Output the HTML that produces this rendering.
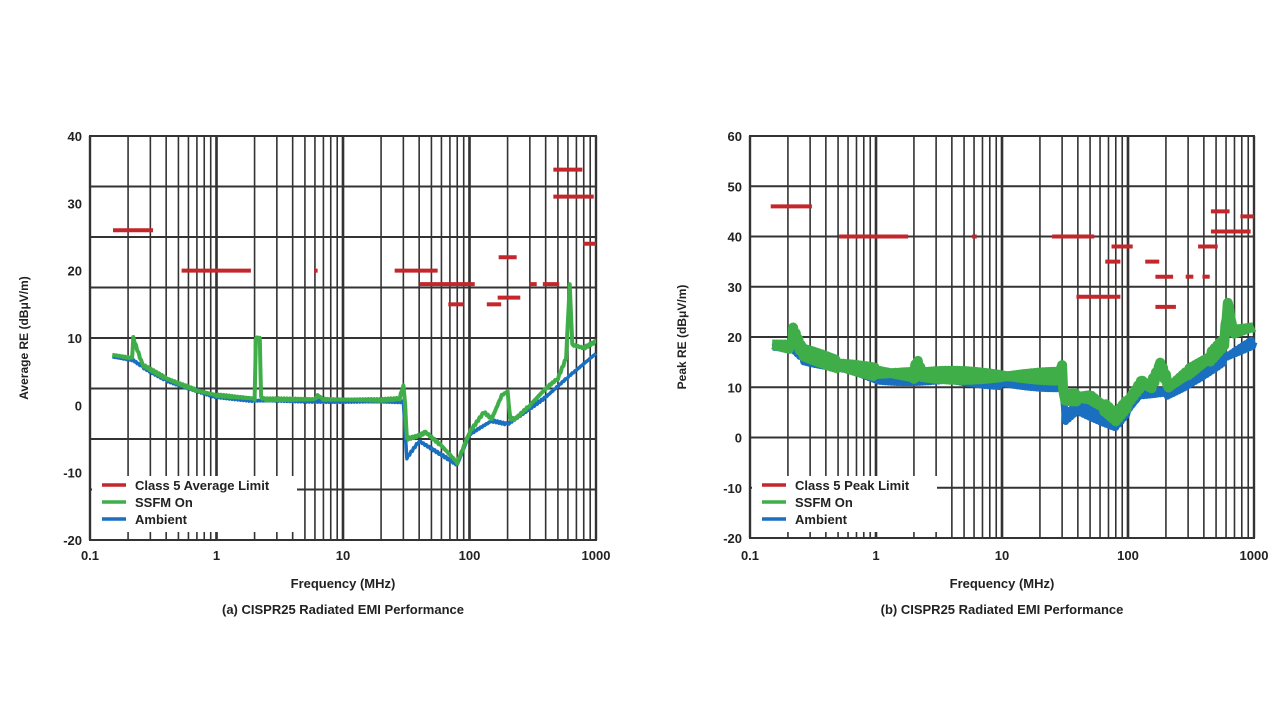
<!DOCTYPE html>
<html><head><meta charset="utf-8"><style>
html,body{margin:0;padding:0;background:#fff;}
svg text{font-family:"Liberation Sans",sans-serif;font-weight:bold;fill:#222;}
</style></head><body>
<svg id="s" width="1280" height="721" xmlns="http://www.w3.org/2000/svg"></svg>
<script>
const S=document.getElementById('s');let h='';
function chart(o){
 const X=f=>o.x0+Math.log10(f/0.1)*(o.x1-o.x0)/4;
 const Y=v=>o.y0+(o.vmax-v)*(o.y1-o.y0)/(o.vmax-o.vmin);
 for(let d=0;d<4;d++)for(let m=1;m<=10;m++){const f=0.1*Math.pow(10,d)*m;const x=X(f);
  const thick=(m==1||m==10);h+=`<line x1="${x}" y1="${o.y0}" x2="${x}" y2="${o.y1}" stroke="#333" stroke-width="${thick?2.4:1.6}"/>`;}
 for(let i=0;i<=8;i++){const y=o.y0+i*(o.y1-o.y0)/8;h+=`<line x1="${o.x0}" y1="${y}" x2="${o.x1}" y2="${y}" stroke="#333" stroke-width="1.9"/>`;}
 h+=`<rect x="${o.x0}" y="${o.y0}" width="${o.x1-o.x0}" height="${o.y1-o.y0}" fill="none" stroke="#333" stroke-width="2"/>`;
 function path(pts,jit,off){let d='';
  for(let i=0;i<pts.length-1;i++){const [f1,v1]=pts[i],[f2,v2]=pts[i+1];const n=Math.max(2,Math.round((Math.log10(f2)-Math.log10(f1))*90));
   for(let k=0;k<n;k++){const t=k/n;const f=Math.pow(10,Math.log10(f1)+t*(Math.log10(f2)-Math.log10(f1)));const v=v1+t*(v2-v1)+off+(jit?(Math.sin(i*7+k*3.1)*jit):0);
    d+=(d?'L':'M')+X(f).toFixed(1)+' '+Y(v).toFixed(1);}}
  const l=pts[pts.length-1];d+='L'+X(l[0]).toFixed(1)+' '+Y(l[1]+off).toFixed(1);return d;}
 h+=`<path d="${path(o.blue,o.jit,o.boff)}" fill="none" stroke="#1a6fc0" stroke-width="${o.sw}" stroke-linejoin="round"/>`;
 h+=`<path d="${path(o.green,o.jit,0)}" fill="none" stroke="#3fae49" stroke-width="${o.sw+o.gx}" stroke-linejoin="round"/>`;
 for(const [a,b,v] of o.lim)h+=`<line x1="${X(a)}" y1="${Y(v)}" x2="${X(b)}" y2="${Y(v)}" stroke="#c3262b" stroke-width="4"/>`;
 for(let v=o.vmin;v<=o.vmax;v+=10)h+=`<text x="${o.x0-8}" y="${Y(v)+5}" font-size="13" text-anchor="end">${v}</text>`;
 ['0.1','1','10','100','1000'].forEach((t,i)=>{h+=`<text x="${o.x0+i*(o.x1-o.x0)/4}" y="560" font-size="13" text-anchor="middle">${t}</text>`;});
 const cx=(o.x0+o.x1)/2;
 h+=`<text x="${cx}" y="588" font-size="13" text-anchor="middle">Frequency (MHz)</text>`;
 h+=`<text x="${cx}" y="614" font-size="13" text-anchor="middle">${o.cap}</text>`;
 h+=`<text transform="translate(${o.yt},${(o.y0+o.y1)/2}) rotate(-90)" font-size="12" text-anchor="middle">${o.ylab}</text>`;
 h+=`<rect x="${o.x0+2}" y="476" width="${o.lw}" height="56" fill="#fff"/>`;
 [['#c3262b',o.l1],['#3fae49','SSFM On'],['#1a6fc0','Ambient']].forEach((e,i)=>{const y=485+i*17;
  h+=`<line x1="${o.x0+12}" y1="${y}" x2="${o.x0+36}" y2="${y}" stroke="${e[0]}" stroke-width="3.5"/><text x="${o.x0+45}" y="${y+5}" font-size="13">${e[1]}</text>`;});
}
chart({x0:90,x1:596,y0:136,y1:540,vmin:-20,vmax:40,sw:3.5,gx:0.5,jit:0.15,boff:-0.3,yt:28,lw:205,
 ylab:'Average RE (dBμV/m)',cap:'(a) CISPR25 Radiated EMI Performance',l1:'Class 5 Average Limit',
 green:[[0.15,7.5],[0.215,7],[0.22,10],[0.26,6],[0.4,4],[0.7,2.2],[1,1.5],[2,1],[2.05,10],[2.2,10],[2.25,1.2],[2.4,0.9],[6,0.9],[6.3,1.5],[7,0.9],[20,0.8],[28,1],[30,3],[31,0],[32,-5],[40,-4.5],[45,-4],[60,-6],[80,-8.5],[100,-4],[130,-1],[150,-2],[180,1.5],[200,2],[210,-2],[230,-2],[300,0],[400,2.5],[500,4],[580,7],[620,18],[650,9],[800,8.5],[1000,9.5]],
 blue:[[0.15,7.5],[0.22,7],[0.26,6],[0.4,4],[1,1.5],[2,1],[30,0.8],[32,-7.5],[40,-5],[80,-8.5],[100,-4],[150,-2],[200,-2.5],[400,1.5],[600,4.5],[1000,8]],
 lim:[[0.152,0.315,26],[0.53,1.87,20],[5.9,6.3,20],[25.6,56,20],[40.4,110,18],[68,90,15],[170,236,22],[167,252,16],[137,178,15],[296,340,18],[380,512,18],[460,780,35],[460,960,31],[790,1000,24]]});
chart({x0:750,x1:1254,y0:136,y1:538,vmin:-20,vmax:60,sw:7,gx:3,jit:0.9,boff:-1.0,yt:686,lw:185,
 ylab:'Peak RE (dBμV/m)',cap:'(b) CISPR25 Radiated EMI Performance',l1:'Class 5 Peak Limit',
 green:[[0.15,18.5],[0.215,18],[0.22,21],[0.26,17],[0.5,14.5],[1,13],[2,12.5],[2.1,15],[2.3,12.5],[10,12.2],[28,12.2],[30,13.5],[31,8],[40,8],[50,8],[65,6],[80,4],[100,7],[130,11],[150,10],[180,14],[200,12],[210,10],[300,13],[450,16],[580,19],[620,27],[680,21],[1000,22]],
 blue:[[0.15,19],[0.22,19],[0.26,17],[1,13],[10,12],[30,11.5],[32,5],[40,7],[80,3.5],[100,6.5],[130,10],[200,10],[300,12],[600,17],[1000,20]],
 lim:[[0.146,0.31,46],[0.51,1.8,40],[5.8,6.3,40],[25,54,40],[39,87,28],[66,87,35],[74,109,38],[137,177,35],[165,228,32],[287,330,32],[390,445,32],[165,240,26],[360,515,38],[455,640,45],[455,940,41],[780,1000,44]]});
S.innerHTML=h;
</script>
</body></html>
